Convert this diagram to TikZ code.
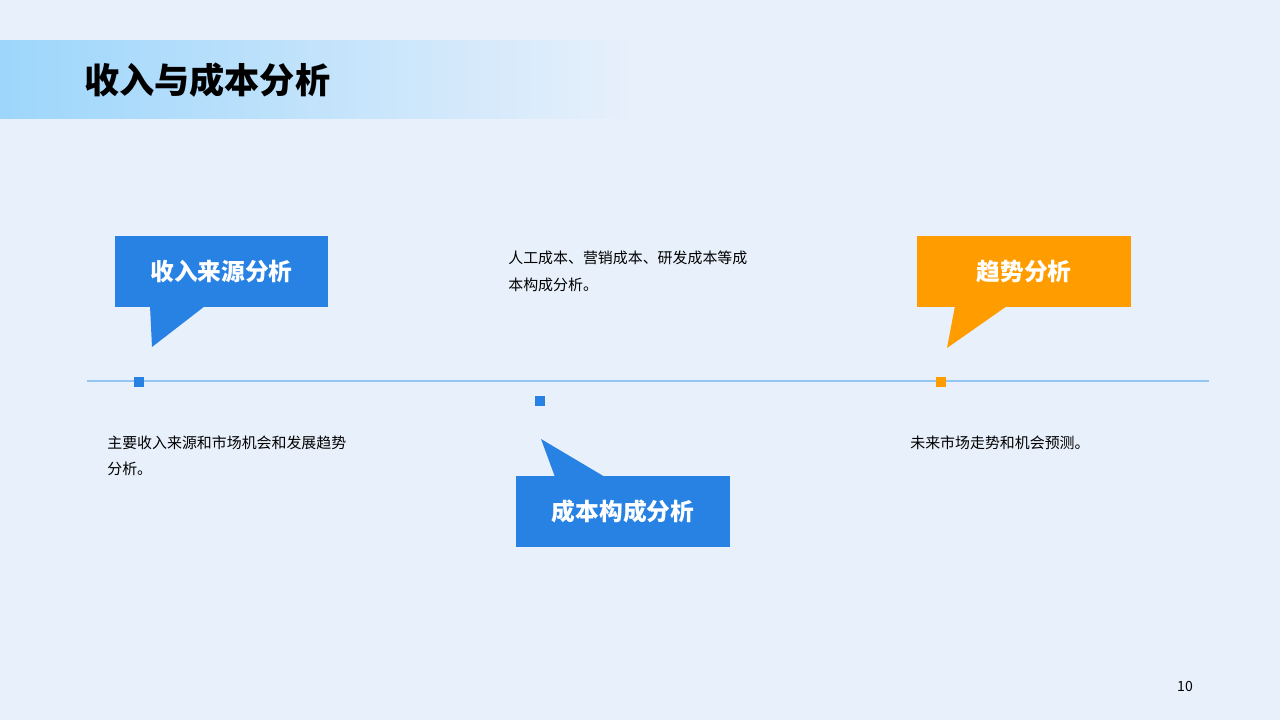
\documentclass[tikz,border=0pt]{standalone}
\usepackage{fontspec}
\setmainfont{Noto Sans CJK SC}
\usetikzlibrary{positioning}
\definecolor{PageBg}{HTML}{E8F0FB}
\definecolor{BarBlue}{HTML}{9DD6FB}
\definecolor{CallBlue}{HTML}{2782E3}
\definecolor{CallOrange}{HTML}{FF9D00}
\definecolor{LineBlue}{HTML}{93C6F2}

\begin{document}
\begin{tikzpicture}[
    x=0.02cm, y=-0.02cm,
    callout/.style={rectangle, minimum width=4.28cm, minimum height=1.42cm,
                    inner sep=0pt, text=white, font=\fontsize{13.5}{16}\selectfont\bfseries},
    note/.style={anchor=north west, align=left, inner sep=0pt,
                 font=\fontsize{8.5}{15}\selectfont},
    marker/.style={rectangle, minimum size=0.19cm, inner sep=0pt}
]
    \useasboundingbox (0,0) rectangle (1280,720);
    \fill[PageBg] (0,0) rectangle (1280,720);
    % title bar
    \shade[left color=BarBlue, right color=PageBg] (0,40) rectangle (640,118);
    \node[anchor=west, font=\fontsize{20}{24}\selectfont\bfseries] (title) at (78,80) {收入与成本分析};
    % timeline
    \coordinate (tl) at (87,381);
    \coordinate (tr) at (1209,381);
    \draw[LineBlue, line width=0.8pt] (tl) -- (tr);
    \node[marker, fill=CallBlue] (m1) at (139,382) {};
    \node[marker, fill=CallBlue] (m2) at (540,401) {};
    \node[marker, fill=CallOrange] (m3) at (941,382) {};
    % callouts
    \node[callout, fill=CallBlue] (c1) at (221.5,271.5) {收入来源分析};
    \fill[CallBlue] (150,306) -- (205,306) -- (152,347) -- cycle;
    \node[callout, fill=CallBlue] (c2) at (623,511.5) {成本构成分析};
    \fill[CallBlue] (555,477) -- (605,477) -- (541,439) -- cycle;
    \node[callout, fill=CallOrange] (c3) at (1024,271.5) {趋势分析};
    \fill[CallOrange] (955,306) -- (1007,306) -- (947,348) -- cycle;
    % notes
    \node[note] (n1) at (107,435) {主要收入来源和市场机会和发展趋势\\分析。};
    \node[note] (n2) at (508,251) {人工成本、营销成本、研发成本等成\\本构成分析。};
    \node[note] (n3) at (910,435) {未来市场走势和机会预测。};
    \node[font=\fontsize{8}{10}\selectfont] (page) at (1185,686) {10};
\end{tikzpicture}
\end{document}
